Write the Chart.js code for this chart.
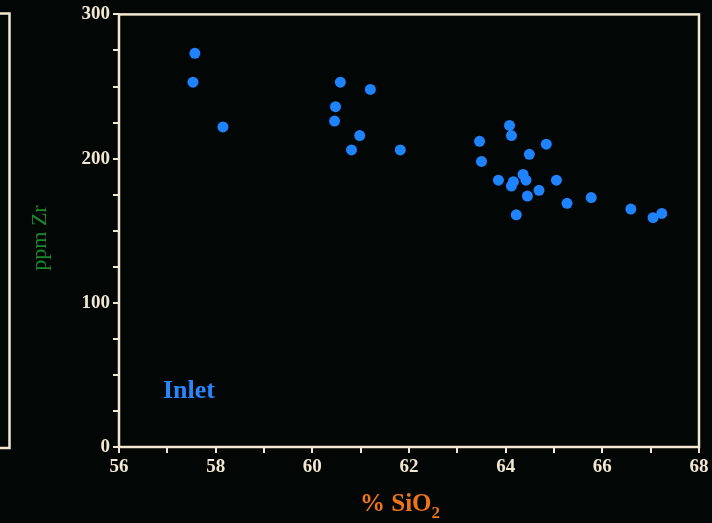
<!DOCTYPE html>
<html>
<head>
<meta charset="utf-8">
<script src="https://cdn.jsdelivr.net/npm/chart.js@4/dist/chart.umd.min.js"></script>
<style>
  html, body { margin: 0; padding: 0; background: #020604; }
  #wrap { width: 712px; height: 523px; position: relative; }
</style>
</head>
<body>
<div id="wrap"><canvas id="c" width="712" height="523"></canvas></div>
<script>
// Data (x = % SiO2, y = ppm Zr), group "Inlet"
const sio2 = [57.57, 57.53, 58.15, 60.58, 61.20, 60.48, 60.46, 60.98, 60.81, 61.82,
              64.08, 64.12, 63.46, 64.84, 64.49, 63.50, 63.85, 64.36, 64.42, 64.16,
              64.12, 65.05, 64.69, 64.45, 65.77, 65.27, 64.22, 66.59, 67.23, 67.05];
const zr   = [273, 253, 222, 253, 248, 236, 226, 216, 206, 206,
              223, 216, 212, 210, 203, 198, 185, 189, 185, 184,
              181, 185, 178, 174, 173, 169, 161, 165, 162, 159];
const groupLabel = "Inlet";
const xTitle = "% SiO";
const xTitleSub = "2";
const yTitle = "ppm Zr";
const xRange = [56, 68];
const yRange = [0, 300];

const cream = '#f3e7d2';
const serif = "'Liberation Serif', 'DejaVu Serif', serif";

const decor = {
  id: 'decor',
  beforeDraw(chart) {
    const ctx = chart.ctx;
    ctx.save();
    ctx.fillStyle = '#020604';
    ctx.fillRect(0, 0, chart.width, chart.height);
    ctx.restore();
  },
  afterDraw(chart) {
    const ctx = chart.ctx;
    const a = chart.chartArea;
    ctx.save();
    // plot frame
    ctx.strokeStyle = cream;
    ctx.lineWidth = 2.5;
    ctx.strokeRect(a.left, a.top, a.right - a.left, a.bottom - a.top);
    // partial panel at far left
    ctx.beginPath();
    ctx.moveTo(0, 13.5); ctx.lineTo(9.5, 13.5); ctx.lineTo(9.5, 448); ctx.lineTo(0, 448);
    ctx.stroke();
    // group label
    ctx.fillStyle = '#2a86ff';
    ctx.font = "bold 26px " + serif;
    ctx.textAlign = 'left';
    ctx.textBaseline = 'middle';
    ctx.fillText(groupLabel, 163, 391);
    // x title with subscript
    ctx.fillStyle = '#ee7418';
    ctx.font = "bold 25px " + serif;
    const w1 = ctx.measureText(xTitle).width;
    ctx.font = "bold 17px " + serif;
    const w2 = ctx.measureText(xTitleSub).width;
    const x0 = 400 - (w1 + w2) / 2;
    ctx.font = "bold 25px " + serif;
    ctx.textBaseline = 'alphabetic';
    ctx.fillText(xTitle, x0, 511);
    ctx.font = "bold 17px " + serif;
    ctx.fillText(xTitleSub, x0 + w1, 518);
    // y title
    ctx.fillStyle = '#1c8a2c';
    ctx.font = "22px " + serif;
    ctx.translate(40, 238);
    ctx.rotate(-Math.PI / 2);
    ctx.textAlign = 'center';
    ctx.textBaseline = 'middle';
    ctx.fillText(yTitle, 0, 0);
    ctx.restore();
  }
};

const points = sio2.map((x, i) => ({ x: x, y: zr[i] }));

new Chart(document.getElementById('c'), {
  type: 'scatter',
  data: {
    datasets: [{
      label: groupLabel,
      data: points,
      backgroundColor: '#1f82ff',
      borderColor: '#1f82ff',
      pointRadius: 5.5,
      pointHoverRadius: 5.5,
      borderWidth: 0
    }]
  },
  options: {
    responsive: false,
    animation: false,
    events: [],
    layout: { padding: { left: 0, right: 13, top: 14, bottom: 0 } },
    plugins: { legend: { display: false }, tooltip: { enabled: false } },
    scales: {
      x: {
        type: 'linear',
        min: xRange[0], max: xRange[1],
        afterFit(s) { s.height = 76; },
        border: { display: false },
        grid: { drawOnChartArea: false, drawTicks: true, tickLength: 6, color: cream, lineWidth: 2 },
        ticks: {
          stepSize: 1,
          autoSkip: false,
          maxRotation: 0,
          padding: 3,
          color: cream,
          font: { family: serif, size: 19, weight: 'bold' },
          callback: v => (v % 2 === 0 ? String(v) : '')
        }
      },
      y: {
        type: 'linear',
        min: yRange[0], max: yRange[1],
        afterFit(s) { s.width = 119; },
        border: { display: false },
        grid: { drawOnChartArea: false, drawTicks: true, tickLength: 6, color: cream, lineWidth: 2 },
        ticks: {
          stepSize: 25,
          autoSkip: false,
          padding: 3,
          color: cream,
          font: { family: serif, size: 19, weight: 'bold' },
          callback: v => (v % 100 === 0 ? String(v) : '')
        }
      }
    }
  },
  plugins: [decor]
});
</script>
</body>
</html>
